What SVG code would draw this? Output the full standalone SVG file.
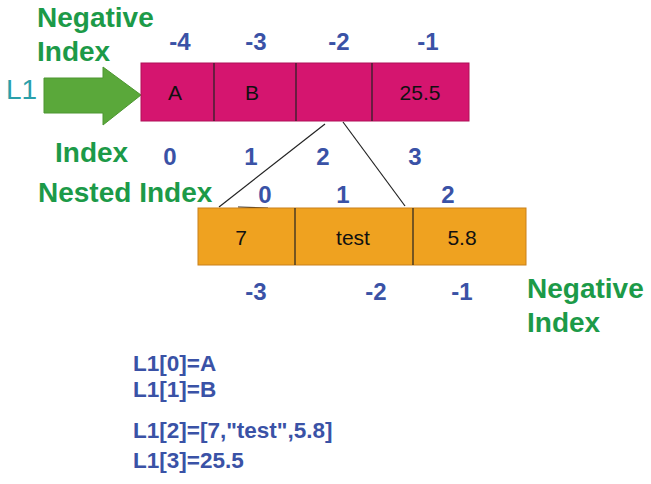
<svg xmlns="http://www.w3.org/2000/svg" width="651" height="484" viewBox="0 0 651 484">
<style>
.g{font-family:"Liberation Sans",Arial,sans-serif;font-weight:bold;font-size:28px;fill:#1c9a48}
.b{font-family:"Liberation Sans",Arial,sans-serif;font-weight:bold;font-size:24px;fill:#3a52a6;text-anchor:middle}
.c{font-family:"Liberation Sans",Arial,sans-serif;font-weight:bold;font-size:22.5px;fill:#3a52a6}
.v{font-family:"Liberation Sans",Arial,sans-serif;font-size:21px;fill:#111;text-anchor:middle}
.div{stroke:#222;stroke-width:1.2}
.ln{stroke:#222;stroke-width:1.2;fill:none}
</style>
<rect width="651" height="484" fill="#fff"/>
<g id="label-L1"><text x="6" y="99" font-family="Liberation Sans,Arial,sans-serif" font-size="28" fill="#2a9faa">L1</text></g>
<g id="arrow"><polygon points="44,78 103,78 103,67 141,95 103,125 103,113 44,113" fill="#5aa83a" stroke="#4c9630" stroke-width="1"/></g>
<g id="neg-index-top"><text class="g" x="37" y="27">Negative</text><text class="g" x="37" y="61">Index</text></g>
<g id="neg-top"><text class="b" x="180" y="50">-4</text><text class="b" x="256" y="50">-3</text><text class="b" x="339" y="50">-2</text><text class="b" x="428" y="50">-1</text></g>
<g id="list-L1">
<rect x="141" y="63" width="328" height="58" fill="#d5156f" stroke="#b01058" stroke-width="1"/>
<line class="div" x1="214" y1="63" x2="214" y2="121"/><line class="div" x1="296" y1="63" x2="296" y2="121"/><line class="div" x1="372" y1="63" x2="372" y2="121"/>
<text class="v" x="175" y="100">A</text><text class="v" x="252" y="100">B</text><text class="v" x="420" y="100">25.5</text>
</g>
<g id="index-row"><text class="g" x="55" y="162">Index</text><text class="b" x="170" y="165">0</text><text class="b" x="251" y="165">1</text><text class="b" x="323" y="165">2</text><text class="b" x="415" y="165">3</text></g>
<g id="nested-index-row"><text class="g" x="38" y="202">Nested Index</text><text class="b" x="265" y="203">0</text><text class="b" x="343" y="203">1</text><text class="b" x="448" y="203">2</text></g>
<g id="connectors">
<line class="ln" x1="325" y1="124" x2="219" y2="207"/>
<line class="ln" x1="343" y1="122" x2="405" y2="206"/>
<line class="ln" x1="238" y1="207" x2="268" y2="208"/>
</g>
<g id="nested-list">
<rect x="198" y="208" width="328" height="57" fill="#efa220" stroke="#c9801a" stroke-width="1"/>
<line class="div" x1="295" y1="208" x2="295" y2="265"/><line class="div" x1="413" y1="208" x2="413" y2="265"/>
<text class="v" x="241" y="245">7</text><text class="v" x="353" y="245">test</text><text class="v" x="462" y="245">5.8</text>
</g>
<g id="neg-bottom"><text class="b" x="256" y="300">-3</text><text class="b" x="376" y="300">-2</text><text class="b" x="462" y="300">-1</text></g>
<g id="neg-index-bottom"><text class="g" x="527" y="298">Negative</text><text class="g" x="527" y="332">Index</text></g>
<g id="code">
<text class="c" x="133" y="371">L1[0]=A</text>
<text class="c" x="133" y="397">L1[1]=B</text>
<text class="c" x="133" y="438">L1[2]=[7,"test",5.8]</text>
<text class="c" x="133" y="468">L1[3]=25.5</text>
</g>
</svg>
